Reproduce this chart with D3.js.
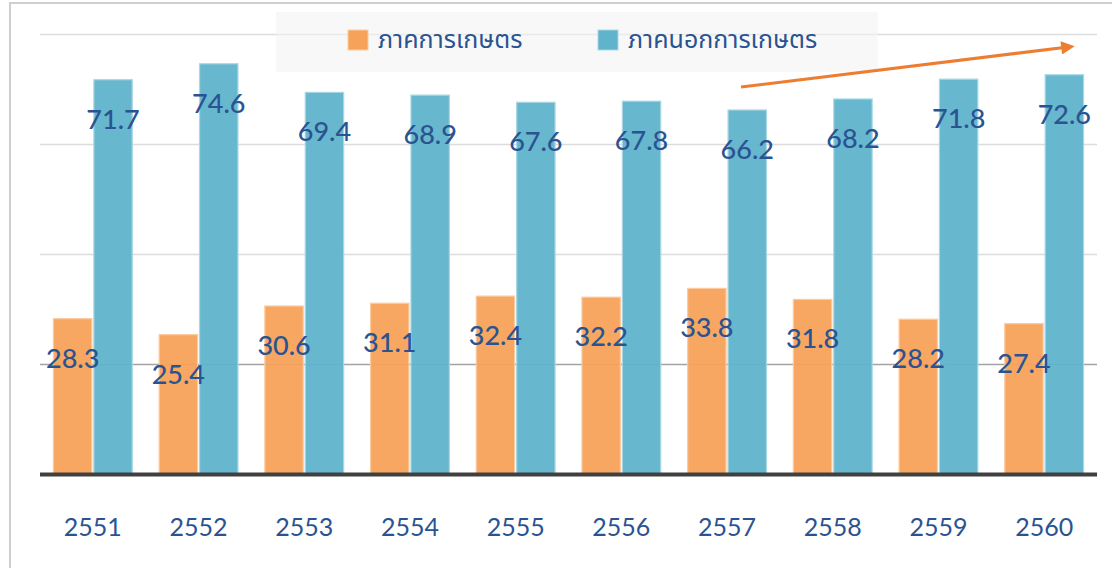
<!DOCTYPE html>
<html>
<head>
<meta charset="utf-8">
<script src="https://cdn.jsdelivr.net/npm/d3@7"></script>
<style>
html,body{margin:0;padding:0;background:#fff;}
svg{display:block;}
</style>
</head>
<body>
<svg id="chart" width="1112" height="568"></svg>
<script>
const categories = ["2551","2552","2553","2554","2555","2556","2557","2558","2559","2560"];
const seriesNames = ["ภาคการเกษตร","ภาคนอกการเกษตร"];
const agriculture = [28.3,25.4,30.6,31.1,32.4,32.2,33.8,31.8,28.2,27.4];
const nonAgriculture = [71.7,74.6,69.4,68.9,67.6,67.8,66.2,68.2,71.8,72.6];
const gridTicks = [20,40,60,80];
const colors = ["#F7A25A","#5FB3CB"];
const strokes = ["#FBCB9F","#A9D7E4"];

const svg = d3.select("#chart");
const labelColor = "#2A5391";
const numFont = "Lato, 'Open Sans', sans-serif";
const thaiFont = "'Noto Sans Thai','Noto Sans Thai UI','Loma','Garuda','Noto Sans',sans-serif";

// outer border
svg.append("path").attr("d","M10,570 L10,3 L1114,3").attr("fill","none").attr("stroke","#cfcfcf").attr("stroke-width",2);

const x = d3.scaleBand().domain(categories).range([40,1097]).paddingInner(0.245).paddingOuter(0.1225);
const xs = d3.scaleBand().domain([0,1]).range([0,x.bandwidth()]).paddingInner(0.025);
const y = d3.scaleLinear().domain([0,80]).range([474.5,34]);

// gridlines
svg.append("g").selectAll("line").data(gridTicks).join("line")
  .attr("x1",40).attr("x2",1097)
  .attr("y1",d=>Math.round(y(d))+0.5).attr("y2",d=>Math.round(y(d))+0.5)
  .attr("stroke",d=>d===20?"#a3a3a3":"#dcdcdc").attr("stroke-width",1.5);

// legend box
svg.append("rect").attr("x",276).attr("y",12).attr("width",602).attr("height",60)
  .attr("fill","#f3f3f3").attr("opacity",0.6);

const data = categories.map((c,i)=>({cat:c, vals:[agriculture[i], nonAgriculture[i]]}));

const groups = svg.append("g").selectAll("g").data(data).join("g")
  .attr("transform",d=>`translate(${x(d.cat)},0)`);

groups.selectAll("rect").data(d=>d.vals.map((v,k)=>({v,k}))).join("rect")
  .attr("x",d=>xs(d.k)+0.5).attr("width",xs.bandwidth()-1)
  .attr("y",d=>y(d.v)).attr("height",d=>y(0)-y(d.v))
  .attr("fill",d=>colors[d.k]).attr("fill-opacity",0.95)
  .attr("stroke",d=>strokes[d.k]).attr("stroke-width",1.2);

groups.selectAll("text").data(d=>d.vals.map((v,k)=>({v,k}))).join("text")
  .attr("x",d=>xs(d.k)+xs.bandwidth()/2)
  .attr("y",d=>y(d.v)+49)
  .attr("text-anchor","middle")
  .attr("font-family",numFont).attr("font-size",27).attr("font-weight",500)
  .attr("fill",labelColor)
  .text(d=>d.v.toFixed(1));

// baseline
svg.append("line").attr("x1",40).attr("x2",1097).attr("y1",y(0)).attr("y2",y(0))
  .attr("stroke","#404040").attr("stroke-width",4);

// x axis labels
const xAxis = d3.axisBottom(x).tickSize(0).tickPadding(0);
const gx = svg.append("g").attr("transform",`translate(0,${y(0)})`).call(xAxis);
gx.select(".domain").remove();
gx.selectAll("text").attr("dy",null).attr("y",61)
  .attr("font-family",numFont).attr("font-size",25).attr("fill",labelColor);

// legend
const legendX = [348,598];
const leg = svg.append("g").selectAll("g").data(seriesNames).join("g")
  .attr("transform",(d,i)=>`translate(${legendX[i]},30)`);
leg.append("rect").attr("width",20).attr("height",20)
  .attr("fill",(d,i)=>colors[i]).attr("stroke",(d,i)=>strokes[i]);
leg.append("text").attr("x",30).attr("y",18)
  .attr("font-family",thaiFont).attr("font-size",25).attr("fill",labelColor)
  .text(d=>d);

// arrow
const defs = svg.append("defs");
defs.append("marker").attr("id","arr").attr("viewBox","0 0 10 10")
  .attr("refX",2).attr("refY",5).attr("markerWidth",5).attr("markerHeight",4.5)
  .attr("orient","auto").attr("markerUnits","strokeWidth")
  .append("path").attr("d","M0,0 L10,5 L0,10 z").attr("fill","#ED7D31");
svg.append("line").attr("x1",741).attr("y1",87).attr("x2",1064).attr("y2",47.5)
  .attr("stroke","#ED7D31").attr("stroke-width",3).attr("marker-end","url(#arr)");
</script>
</body>
</html>
